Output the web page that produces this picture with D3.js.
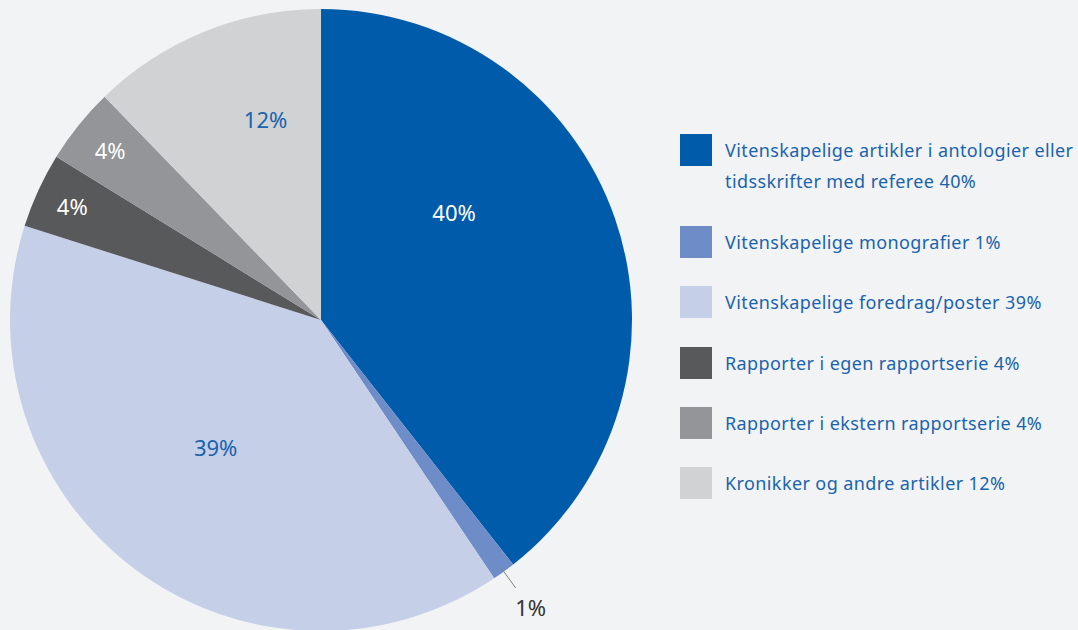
<!DOCTYPE html>
<html lang="no">
<head>
  <meta charset="UTF-8">
  <title>Publikasjoner</title>
  <script src="https://cdn.jsdelivr.net/npm/d3@7"></script>
  <style>
    html, body { margin: 0; padding: 0; background: #f2f3f5; }
    svg { display: block; }
  </style>
</head>
<body>
<script>
  const categories = [
    'Vitenskapelige artikler i antologier eller tidsskrifter med referee',
    'Vitenskapelige monografier',
    'Vitenskapelige foredrag/poster',
    'Rapporter i egen rapportserie',
    'Rapporter i ekstern rapportserie',
    'Kronikker og andre artikler'
  ]
  // shares
  const values = [39.4, 1.2, 39.3, 3.9, 3.95, 12.25]
  const percentLabels = ['40%', '1%', '39%', '4%', '4%', '12%']
  const legendLines = [
    ['Vitenskapelige artikler i antologier eller', 'tidsskrifter med referee 40%'],
    ['Vitenskapelige monografier 1%'],
    ['Vitenskapelige foredrag/poster 39%'],
    ['Rapporter i egen rapportserie 4%'],
    ['Rapporter i ekstern rapportserie 4%'],
    ['Kronikker og andre artikler 12%']
  ]

  const colors = ['#005baa', '#6d8cc8', '#c5cfe8', '#58595b', '#939598', '#d1d2d4']
  const labelColors = ['#ffffff', '#333333', '#1a63ad', '#ffffff', '#ffffff', '#1a63ad']
  // label radius (fraction of R) and position within slice (0..1)
  const labelRadius = [0.55, 0, 0.53, 0.88, 0.87, 0.67]
  const labelAlong = [0.36, 0.5, 0.52, 0.5, 0.5, 0.65]

  const width = 1078
  const height = 630
  const cx = 321, cy = 320, R = 311

  const svg = d3.select('body').append('svg')
    .attr('width', width)
    .attr('height', height)

  const pie = d3.pie().sort(null).value(d => d)
  const arcs = pie(values)
  const arc = d3.arc().innerRadius(0).outerRadius(R)

  const g = svg.append('g').attr('transform', `translate(${cx},${cy})`)

  g.selectAll('path')
    .data(arcs)
    .join('path')
    .attr('fill', (d, i) => colors[i])
    .attr('d', arc)

  function pointAt(d, i, r) {
    const a = d.startAngle + (d.endAngle - d.startAngle) * labelAlong[i]
    return [Math.sin(a) * r, -Math.cos(a) * r]
  }

  // leader for the small slice
  const small = arcs[1]
  const p0 = pointAt(small, 1, R * 0.99)
  const p1 = pointAt(small, 1, R * 1.065)
  g.append('line')
    .attr('x1', p0[0]).attr('y1', p0[1])
    .attr('x2', p1[0]).attr('y2', p1[1])
    .attr('stroke', '#808080')
    .attr('stroke-width', 1)

  g.selectAll('text.lbl')
    .data(arcs)
    .join('text')
    .attr('class', 'lbl')
    .attr('font-family', 'Noto Sans, sans-serif')
    .attr('font-size', 22)
    .attr('text-anchor', 'middle')
    .attr('dominant-baseline', 'central')
    .attr('fill', (d, i) => labelColors[i])
    .attr('transform', (d, i) => {
      if (i === 1) {
        const p = pointAt(d, i, R * 1.065)
        return `translate(${p[0] + 15},${p[1] + 19})`
      }
      return `translate(${pointAt(d, i, R * labelRadius[i])})`
    })
    .text((d, i) => percentLabels[i])

  // legend
  const legendY = d3.scaleOrdinal()
    .domain(categories)
    .range([150, 242, 302, 363, 423, 483])

  const legend = svg.append('g')
    .selectAll('g')
    .data(categories)
    .join('g')
    .attr('transform', d => `translate(680,${legendY(d)})`)

  legend.append('rect')
    .attr('x', 0)
    .attr('y', -16)
    .attr('width', 32)
    .attr('height', 32)
    .attr('fill', (d, i) => colors[i])

  legend.append('text')
    .attr('font-family', 'Noto Sans, sans-serif')
    .attr('font-size', 18)
    .attr('letter-spacing', 0.4)
    .attr('fill', '#1a63ad')
    .selectAll('tspan')
    .data((d, i) => legendLines[i])
    .join('tspan')
    .attr('x', 45)
    .attr('y', (d, j) => j * 31)
    .attr('dominant-baseline', 'central')
    .text(d => d)
</script>
</body>
</html>
